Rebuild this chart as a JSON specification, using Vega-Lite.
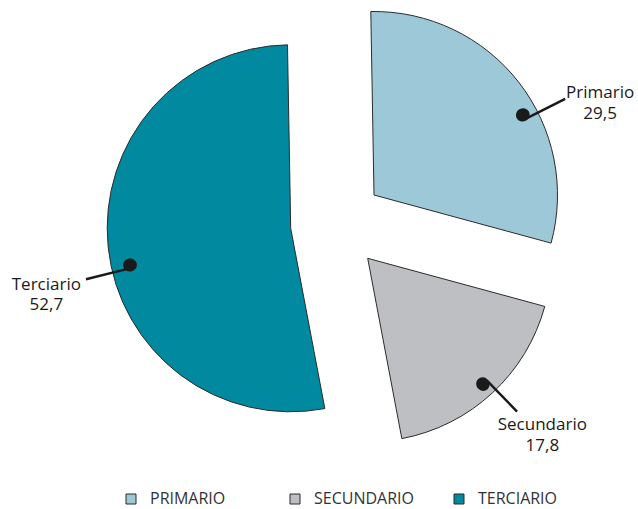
{
  "$schema": "https://vega.github.io/schema/vega-lite/v6.json",
  "width": 638,
  "height": 509,
  "autosize": {"type": "none"},
  "padding": 0,
  "background": "white",
  "config": {
    "view": {"stroke": null},
    "font": "Open Sans"
  },
  "data": {
    "values": [
      {"sector": "Primario", "value": 29.5},
      {"sector": "Secundario", "value": 17.8},
      {"sector": "Terciario", "value": 52.7}
    ]
  },
  "transform": [
    {"stack": "value", "groupby": [], "sort": [{"field": "sector", "order": "ascending"}], "as": ["v0", "v1"]},
    {"calculate": "(datum.v0 + datum.v1) / 2", "as": "mid"},
    {"calculate": "[datum.sector, replace(format(datum.value, '.1f'), '.', ',')]", "as": "label"}
  ],
  "layer": [
    {
      "transform": [{"filter": "datum.sector === 'Primario'"}],
      "layer": [
        {
          "mark": {"type": "arc", "radius": 183.5, "stroke": "#2b2b2b", "strokeWidth": 1, "xOffset": 55, "yOffset": -59.5},
          "encoding": {
            "theta": {"field": "v0", "type": "quantitative", "stack": null, "scale": {"domain": [0, 100], "range": [-0.01745, 6.26573]}},
            "theta2": {"field": "v1"},
            "color": {
              "field": "sector", "type": "nominal",
              "scale": {"domain": ["Primario", "Secundario", "Terciario"], "range": ["#9DC8D7", "#BEBFC3", "#00899F"]},
              "legend": {
                "title": null,
                "orient": "none",
                "legendX": 123,
                "legendY": 491,
                "direction": "horizontal",
                "gridAlign": "all",
                "columnPadding": 37,
                "padding": 0,
                "symbolType": "square",
                "symbolSize": 100,
                "symbolStrokeColor": "#555555",
                "symbolStrokeWidth": 1,
                "symbolOpacity": 1,
                "labelFont": "Open Sans",
                "labelFontSize": 16,
                "labelColor": "#333333",
                "labelOffset": 11,
                "labelLimit": 300,
                "labelExpr": "upper(datum.label)"
              }
            }
          }
        },
        {
          "mark": {"type": "arc", "filled": false, "radius": 214, "radius2": 169, "thetaOffset": 0.1955, "theta2Offset": 0.1955, "stroke": "#1a1a1a", "strokeWidth": 2.5, "xOffset": 55, "yOffset": -59.5},
          "encoding": {"theta": {"field": "mid", "type": "quantitative", "stack": null}, "theta2": {"field": "mid"}}
        },
        {
          "mark": {"type": "arc", "filled": false, "radius": 169.4, "radius2": 168.6, "thetaOffset": 0.1676, "theta2Offset": 0.1676, "stroke": "#1a1a1a", "strokeWidth": 13, "strokeJoin": "round", "xOffset": 55, "yOffset": -59.5},
          "encoding": {"theta": {"field": "mid", "type": "quantitative", "stack": null}, "theta2": {"field": "mid"}}
        },
        {
          "mark": {"type": "text", "radius": 246, "thetaOffset": 0.2566, "fontSize": 17, "align": "center", "baseline": "alphabetic", "lineHeight": 20.5, "color": "#1a1a1a", "xOffset": 55, "yOffset": -59.5},
          "encoding": {"theta": {"field": "mid", "type": "quantitative", "stack": null}, "text": {"field": "label"}}
        }
      ]
    },
    {
      "transform": [{"filter": "datum.sector === 'Secundario'"}],
      "layer": [
        {
          "mark": {"type": "arc", "radius": 183.5, "stroke": "#2b2b2b", "strokeWidth": 1, "xOffset": 48.7, "yOffset": 3.8},
          "encoding": {
            "theta": {"field": "v0", "type": "quantitative", "stack": null},
            "theta2": {"field": "v1"},
            "color": {"field": "sector", "type": "nominal"}
          }
        },
        {
          "mark": {"type": "arc", "filled": false, "radius": 214, "radius2": 170.6, "thetaOffset": -0.0262, "theta2Offset": -0.0262, "stroke": "#1a1a1a", "strokeWidth": 2.5, "xOffset": 48.7, "yOffset": 3.8},
          "encoding": {"theta": {"field": "mid", "type": "quantitative", "stack": null}, "theta2": {"field": "mid"}}
        },
        {
          "mark": {"type": "arc", "filled": false, "radius": 171, "radius2": 170.2, "thetaOffset": 0.0052, "theta2Offset": 0.0052, "stroke": "#1a1a1a", "strokeWidth": 13, "strokeJoin": "round", "xOffset": 48.7, "yOffset": 3.8},
          "encoding": {"theta": {"field": "mid", "type": "quantitative", "stack": null}, "theta2": {"field": "mid"}}
        },
        {
          "mark": {"type": "text", "radius": 245, "thetaOffset": -0.0471, "fontSize": 17, "align": "center", "baseline": "alphabetic", "lineHeight": 20.5, "color": "#1a1a1a", "xOffset": 48.7, "yOffset": 3.8},
          "encoding": {"theta": {"field": "mid", "type": "quantitative", "stack": null}, "text": {"field": "label"}}
        }
      ]
    },
    {
      "transform": [{"filter": "datum.sector === 'Terciario'"}],
      "layer": [
        {
          "mark": {"type": "arc", "radius": 183.5, "stroke": "#2b2b2b", "strokeWidth": 1, "xOffset": -28.3, "yOffset": -26.2},
          "encoding": {
            "theta": {"field": "v0", "type": "quantitative", "stack": null},
            "theta2": {"field": "v1"},
            "color": {"field": "sector", "type": "nominal"}
          }
        },
        {
          "mark": {"type": "arc", "filled": false, "radius": 211, "radius2": 165, "thetaOffset": -0.1414, "theta2Offset": -0.1414, "stroke": "#1a1a1a", "strokeWidth": 2.5, "xOffset": -28.3, "yOffset": -26.2},
          "encoding": {"theta": {"field": "mid", "type": "quantitative", "stack": null}, "theta2": {"field": "mid"}}
        },
        {
          "mark": {"type": "arc", "filled": false, "radius": 165.2, "radius2": 164.4, "thetaOffset": -0.1222, "theta2Offset": -0.1222, "stroke": "#1a1a1a", "strokeWidth": 13, "strokeJoin": "round", "xOffset": -28.3, "yOffset": -26.2},
          "encoding": {"theta": {"field": "mid", "type": "quantitative", "stack": null}, "theta2": {"field": "mid"}}
        },
        {
          "mark": {"type": "text", "radius": 252, "thetaOffset": -0.1449, "fontSize": 17, "align": "center", "baseline": "alphabetic", "lineHeight": 20.5, "color": "#1a1a1a", "xOffset": -28.3, "yOffset": -26.2},
          "encoding": {"theta": {"field": "mid", "type": "quantitative", "stack": null}, "text": {"field": "label"}}
        }
      ]
    }
  ]
}
